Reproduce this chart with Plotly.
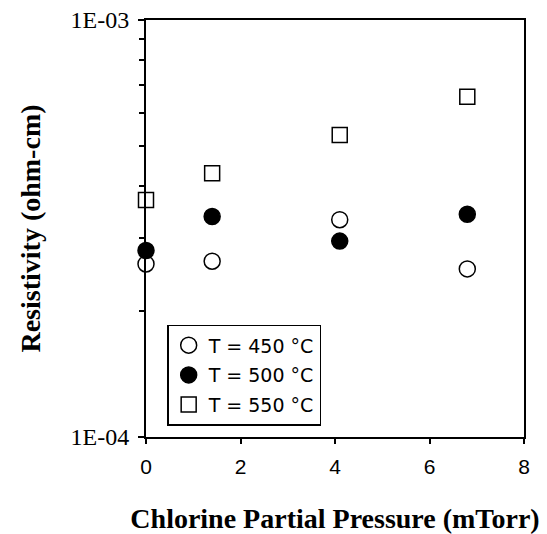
import plotly.graph_objects as go

pressure = [0.0, 1.4, 4.1, 6.8]
rho_450 = [2.60e-4, 2.64e-4, 3.32e-4, 2.53e-4]
rho_500 = [2.80e-4, 3.38e-4, 2.95e-4, 3.42e-4]
rho_550 = [3.70e-4, 4.29e-4, 5.30e-4, 6.55e-4]
labels = ["T = 450 °C", "T = 500 °C", "T = 550 °C"]
y_tickvals = [1e-4, 1e-3]
y_ticktext = ["1E-04", "1E-03"]
y_minor = [2e-4, 3e-4, 4e-4, 5e-4, 6e-4, 7e-4, 8e-4, 9e-4]
x_ticks = [0, 2, 4, 6, 8]

fig = go.Figure()
styles = [
    dict(symbol="circle", color="white", size=16),
    dict(symbol="circle", color="black", size=16),
    dict(symbol="square", color="white", size=15),
]
for i, (ys, lab, st) in enumerate(zip([rho_450, rho_500, rho_550], labels, styles)):
    fig.add_trace(go.Scatter(
        x=pressure, y=ys, mode="markers", name=lab,
        legendgroup=f"g{i}",
        marker=dict(symbol=st["symbol"], size=st["size"], color=st["color"],
                    line=dict(color="black", width=1.5)),
        cliponaxis=False,
    ))

fig.update_layout(
    width=539, height=526,
    margin=dict(l=138, r=23, t=12, b=97, autoexpand=False),
    paper_bgcolor="white", plot_bgcolor="white",
    showlegend=True,
    legend=dict(
        x=0.056, y=0.269, xanchor="left", yanchor="top",
        bordercolor="black", borderwidth=1.5, bgcolor="white",
        font=dict(family="DejaVu Sans", size=19, color="black"),
        traceorder="grouped", tracegroupgap=2,
        itemwidth=30,
    ),
    xaxis=dict(
        range=[0, 8], tickvals=x_ticks, ticks="outside", ticklen=5,
        tickcolor="black", tickwidth=2, ticklabelstandoff=5,
        showline=True, linecolor="black", linewidth=2, mirror=True,
        showgrid=False, zeroline=False, automargin=False,
        tickfont=dict(family="Liberation Sans", size=21, color="black"),
        title=dict(text="<b>Chlorine Partial Pressure (mTorr)</b>",
                   font=dict(family="Liberation Serif", size=28, color="black"),
                   standoff=32),
    ),
    yaxis=dict(
        type="log", range=[-4, -3], tickvals=y_tickvals, ticktext=y_ticktext,
        ticks="outside", ticklen=6, tickcolor="black", tickwidth=2,
        ticklabelstandoff=4, ticklabeloverflow="allow",
        minor=dict(tickvals=y_minor, ticks="outside", ticklen=5,
                   tickcolor="black", tickwidth=2, showgrid=False),
        showline=True, linecolor="black", linewidth=2, mirror=True,
        showgrid=False, zeroline=False, automargin=False,
        tickfont=dict(family="Liberation Serif", size=24, color="black"),
        title=dict(text="<b>Resistivity (ohm-cm)</b>",
                   font=dict(family="Liberation Serif", size=28, color="black"),
                   standoff=22),
    ),
)

fig.write_html("out.html")
